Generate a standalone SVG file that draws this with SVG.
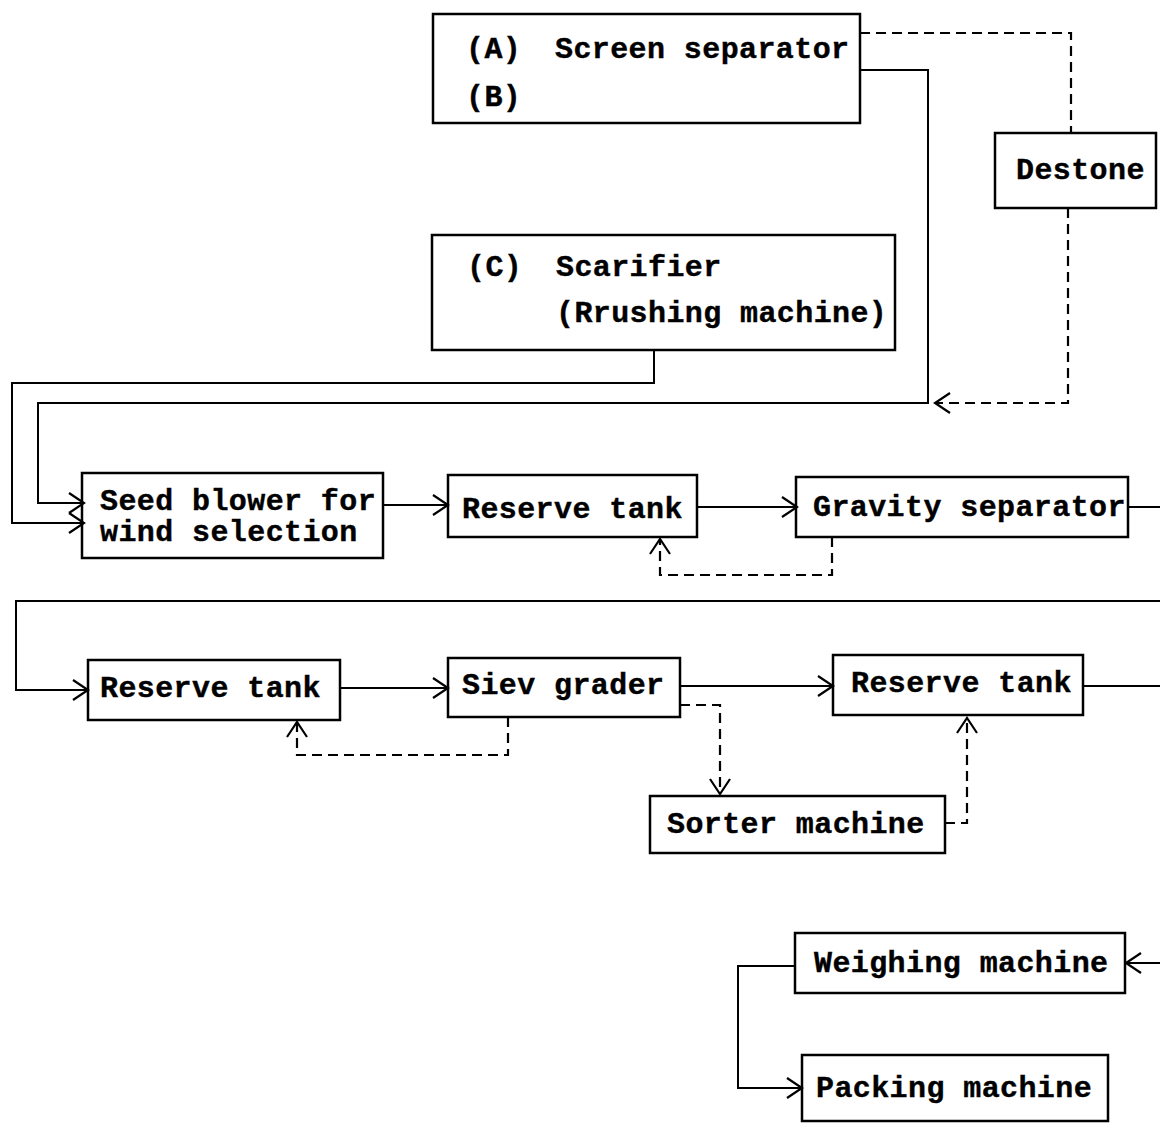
<svg xmlns="http://www.w3.org/2000/svg" width="1160" height="1123" viewBox="0 0 1160 1123">
<style>
.box{fill:none;stroke:#000;stroke-width:2.5}
.t{font-family:"Liberation Mono","Courier New",monospace;font-weight:bold;font-size:30px;letter-spacing:0.4px;fill:#000;stroke:#000;stroke-width:0.4}
.c{fill:none;stroke:#000;stroke-width:2}
.d{fill:none;stroke:#000;stroke-width:2.2;stroke-dasharray:10,6}
</style>
<defs>
<marker id="ar" markerUnits="userSpaceOnUse" markerWidth="18" markerHeight="24" refX="16" refY="12" orient="auto" viewBox="0 0 18 24">
<path d="M1,2 L16,12 L1,22" fill="none" stroke="#000" stroke-width="2.2"/>
</marker>
</defs>
<rect width="1160" height="1123" fill="#fff"/>
<g id="connectors">
<path class="d" d="M860,33 H1071 V133"/>
<path class="d" d="M1068,208 V403 H935" marker-end="url(#ar)"/>
<path class="c" d="M860,70 H928 V403 H38 V503 H84" marker-end="url(#ar)"/>
<path class="c" d="M654,350 V383 H12 V523 H84" marker-end="url(#ar)"/>
<path class="c" d="M383,505 H448" marker-end="url(#ar)"/>
<path class="c" d="M697,507 H797" marker-end="url(#ar)"/>
<path class="c" d="M1128,507 H1160"/>
<path class="d" d="M832,537 V575 H660 V539" marker-end="url(#ar)"/>
<path class="c" d="M1160,601 H16 V690 H88" marker-end="url(#ar)"/>
<path class="c" d="M340,688 H448" marker-end="url(#ar)"/>
<path class="d" d="M508,717 V755 H297 V722" marker-end="url(#ar)"/>
<path class="c" d="M680,686 H833" marker-end="url(#ar)"/>
<path class="c" d="M1083,686 H1160"/>
<path class="d" d="M680,705 H720 V794" marker-end="url(#ar)"/>
<path class="d" d="M945,823 H967 V718" marker-end="url(#ar)"/>
<path class="c" d="M1160,963 H1126" marker-end="url(#ar)"/>
<path class="c" d="M795,966 H738 V1088 H802" marker-end="url(#ar)"/>
</g>
<g id="screen-separator">
<rect class="box" x="433" y="14" width="427" height="109"/>
<text class="t" x="466" y="58">(A)</text>
<text class="t" x="555" y="58">Screen separator</text>
<text class="t" x="466" y="106">(B)</text>
</g>
<g id="destone">
<rect class="box" x="995" y="133" width="161" height="75"/>
<text class="t" x="1016" y="179">Destone</text>
</g>
<g id="scarifier">
<rect class="box" x="432" y="235" width="463" height="115"/>
<text class="t" x="467" y="276">(C)</text>
<text class="t" x="556" y="276">Scarifier</text>
<text class="t" x="556" y="322">(Rrushing machine)</text>
</g>
<g id="seed-blower">
<rect class="box" x="82" y="473" width="301" height="85"/>
<text class="t" x="100" y="510">Seed blower for</text>
<text class="t" x="100" y="541">wind selection</text>
</g>
<g id="reserve-tank-1">
<rect class="box" x="448" y="475" width="249" height="62"/>
<text class="t" x="462" y="518">Reserve tank</text>
</g>
<g id="gravity-separator">
<rect class="box" x="796" y="477" width="332" height="60"/>
<text class="t" x="813" y="516">Gravity separator</text>
</g>
<g id="reserve-tank-2">
<rect class="box" x="88" y="660" width="252" height="60"/>
<text class="t" x="100" y="697">Reserve tank</text>
</g>
<g id="siev-grader">
<rect class="box" x="448" y="658" width="232" height="59"/>
<text class="t" x="462" y="694">Siev grader</text>
</g>
<g id="reserve-tank-3">
<rect class="box" x="833" y="655" width="250" height="60"/>
<text class="t" x="851" y="692">Reserve tank</text>
</g>
<g id="sorter-machine">
<rect class="box" x="650" y="796" width="295" height="57"/>
<text class="t" x="667" y="833">Sorter machine</text>
</g>
<g id="weighing-machine">
<rect class="box" x="795" y="933" width="330" height="60"/>
<text class="t" x="814" y="972">Weighing machine</text>
</g>
<g id="packing-machine">
<rect class="box" x="802" y="1055" width="306" height="66"/>
<text class="t" x="816" y="1097">Packing machine</text>
</g>
</svg>
